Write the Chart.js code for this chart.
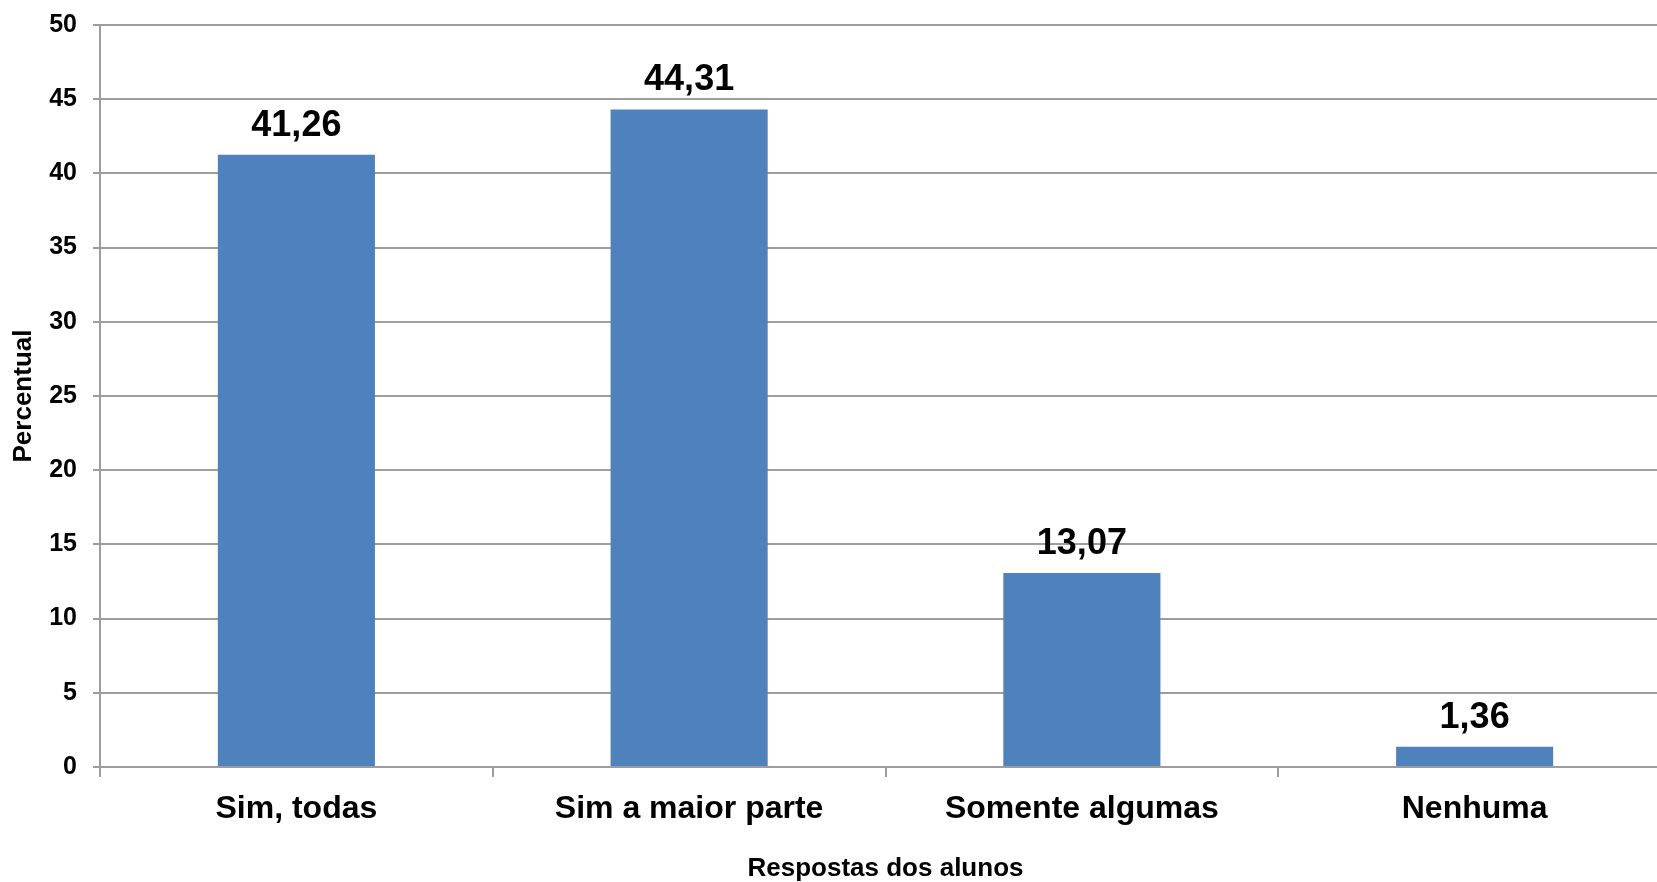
<!DOCTYPE html>
<html>
<head>
<meta charset="utf-8">
<script src="https://cdn.jsdelivr.net/npm/chart.js@4.4.1/dist/chart.umd.min.js"></script>
<style>
  html, body { margin: 0; padding: 0; background: #ffffff; overflow: hidden; }
  #wrap { width: 1671px; height: 882px; }
</style>
</head>
<body>
<div id="wrap"><canvas id="c" width="1671" height="882"></canvas></div>
<script>
const categories = ["Sim, todas", "Sim a maior parte", "Somente algumas", "Nenhuma"];
const percentValues = [41.26, 44.31, 13.07, 1.36];
const yTickMin = 0;
const yTickMax = 50;
const yTickStep = 5;
const xAxisTitle = "Respostas dos alunos";
const yAxisTitle = "Percentual";

const FONT = "'Liberation Sans', Arial, Helvetica, sans-serif";
const GRID = "#9d9d9d";

const dataLabelPlugin = {
  id: "dataLabels",
  afterDatasetsDraw(chart) {
    const ctx = chart.ctx;
    const meta = chart.getDatasetMeta(0);
    ctx.save();
    ctx.font = "bold 36px " + FONT;
    ctx.fillStyle = "#000000";
    ctx.textAlign = "center";
    ctx.textBaseline = "alphabetic";
    meta.data.forEach((bar, i) => {
      const v = chart.data.datasets[0].data[i];
      ctx.fillText(v.toFixed(2).replace(".", ","), bar.x, bar.y - 19);
    });
    ctx.restore();
  }
};

new Chart(document.getElementById("c"), {
  type: "bar",
  data: {
    labels: categories,
    datasets: [{
      data: percentValues,
      backgroundColor: "#4f81bd",
      borderWidth: 0,
      barPercentage: 0.4,
      categoryPercentage: 1.0
    }]
  },
  options: {
    responsive: false,
    animation: false,
    devicePixelRatio: 1,
    layout: { padding: { top: 25, left: 0, right: 0, bottom: 0 } },
    plugins: {
      legend: { display: false },
      tooltip: { enabled: false }
    },
    scales: {
      x: {
        grid: {
          display: true,
          offset: true,
          drawOnChartArea: false,
          drawTicks: true,
          tickLength: 10,
          color: GRID,
          lineWidth: 2
        },
        border: { display: true, color: GRID, width: 2 },
        ticks: {
          color: "#000000",
          font: { family: FONT, size: 32, weight: "bold" },
          padding: 13,
          maxRotation: 0,
          autoSkip: false
        },
        title: {
          display: true,
          text: xAxisTitle,
          color: "#000000",
          font: { family: FONT, size: 26, weight: "bold", lineHeight: 1 },
          padding: { top: 0, bottom: 0 }
        },
        afterFit(scale) { scale.height = 115; }
      },
      y: {
        min: yTickMin,
        max: yTickMax,
        grid: {
          color: GRID,
          lineWidth: 2,
          drawTicks: true,
          tickLength: 7
        },
        border: { display: true, color: GRID, width: 2 },
        ticks: {
          stepSize: yTickStep,
          color: "#000000",
          font: { family: FONT, size: 25, weight: "bold" },
          padding: 16
        },
        title: {
          display: true,
          text: yAxisTitle,
          color: "#000000",
          font: { family: FONT, size: 26, weight: "bold" },
          padding: { top: 8, bottom: 0 }
        },
        afterFit(scale) {
          scale.width = 100;
          scale.paddingTop = 0;
          scale.paddingBottom = 0;
        }
      }
    }
  },
  plugins: [dataLabelPlugin]
});
</script>
</body>
</html>
